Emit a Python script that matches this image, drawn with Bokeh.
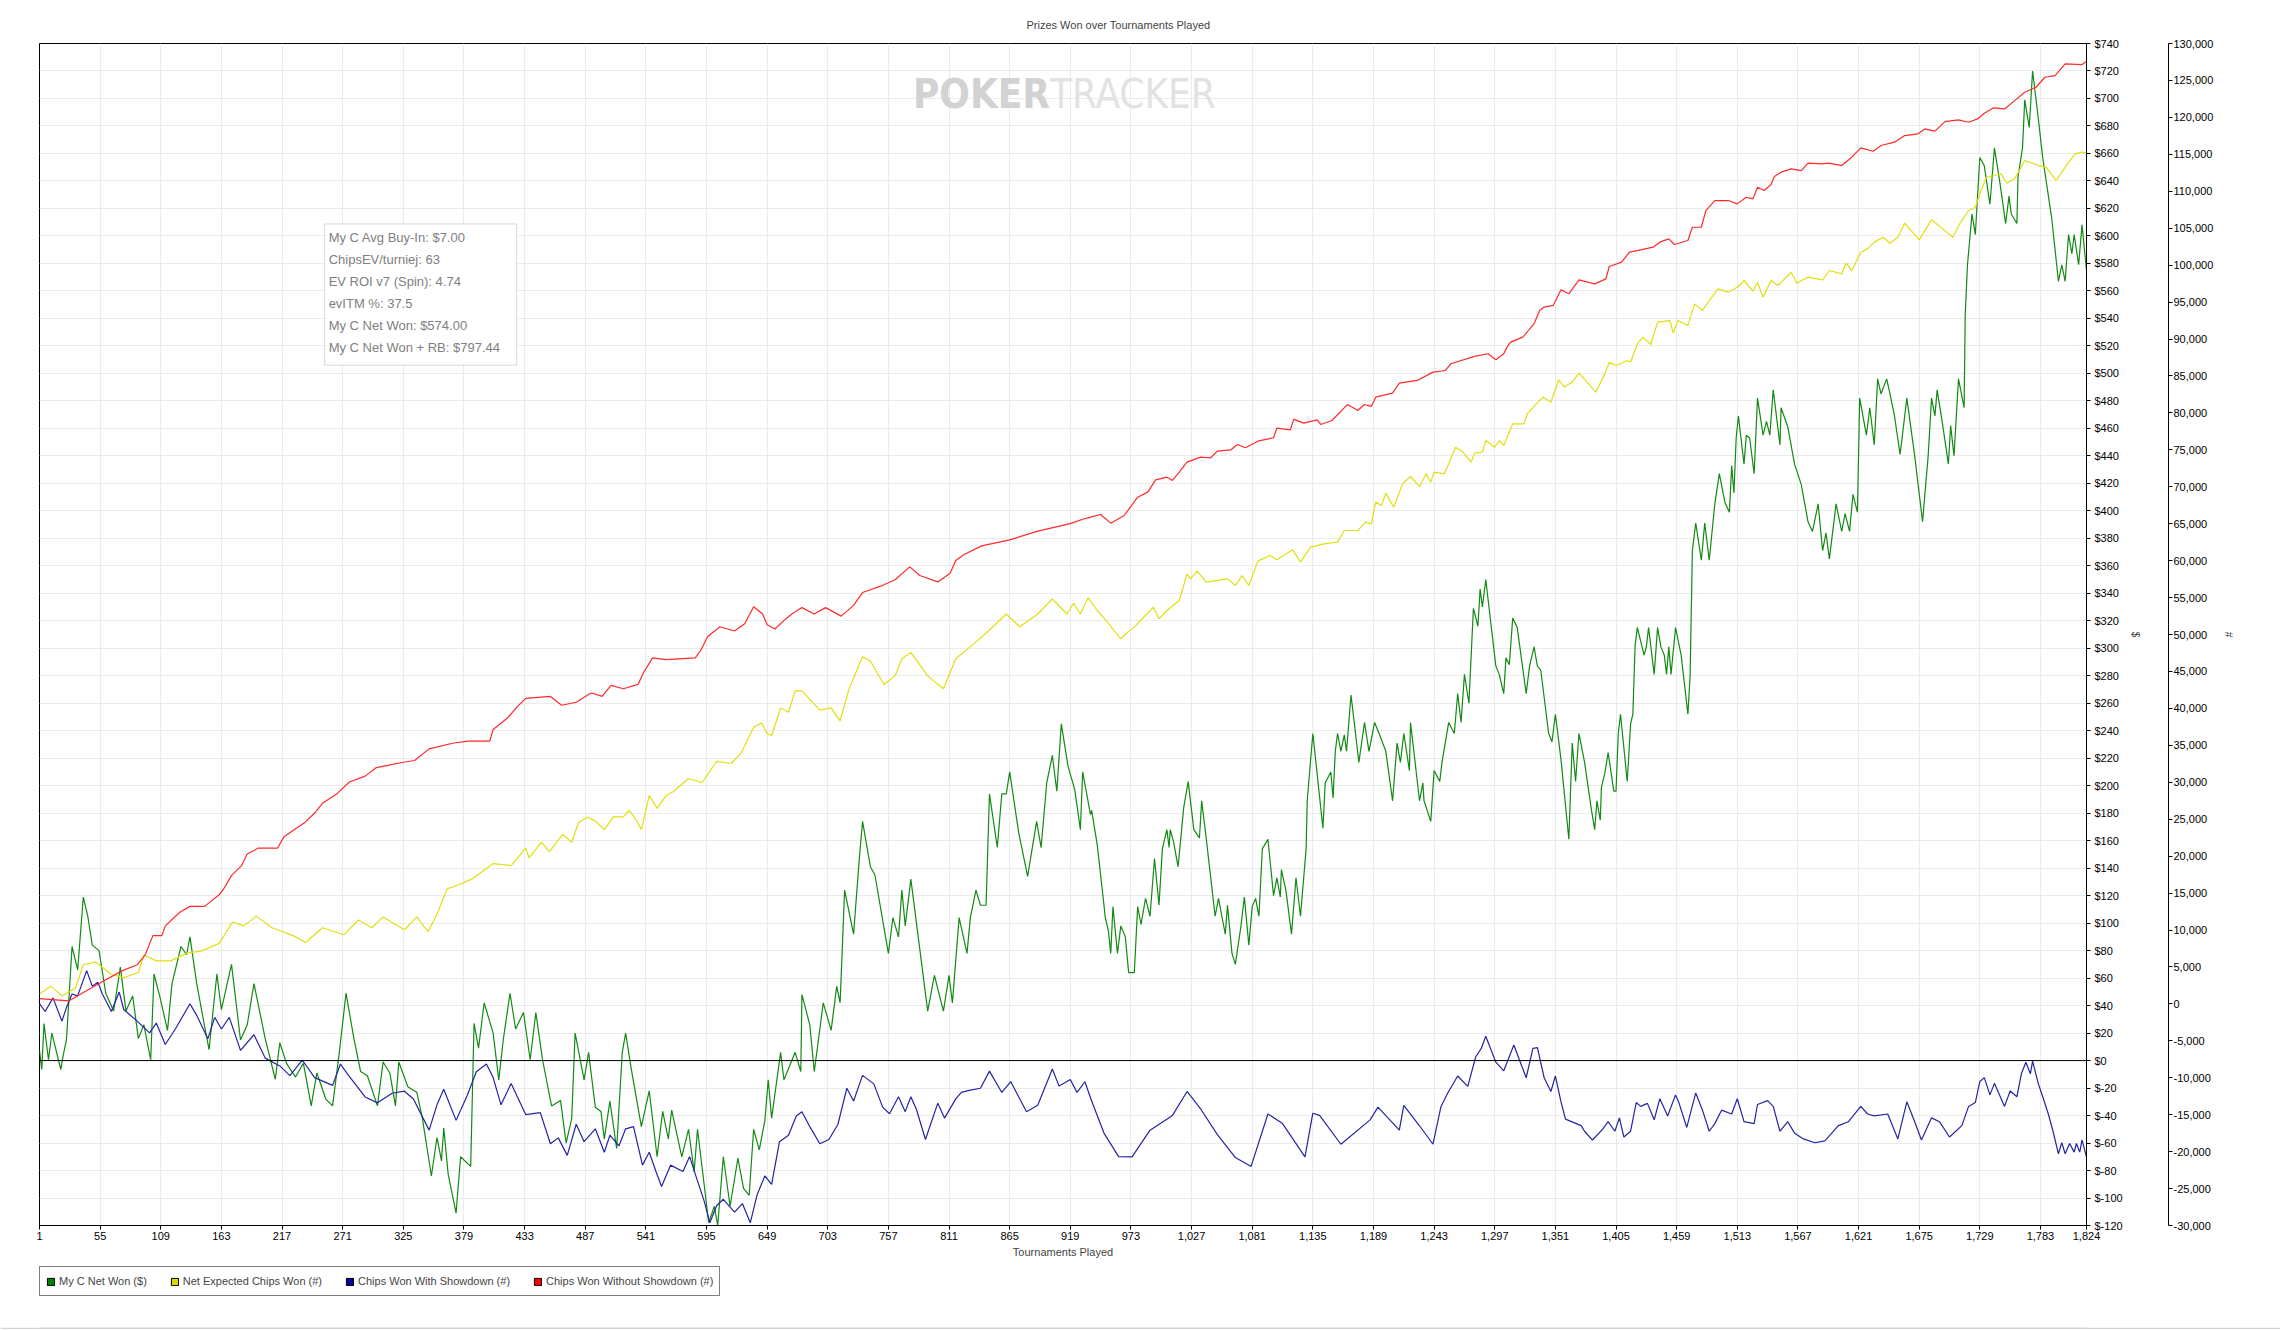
from bokeh.plotting import figure
from bokeh.layouts import column
from bokeh.models import (Range1d, LinearAxis, FixedTicker, NumeralTickFormatter, PrintfTickFormatter,
                          Span, BoxAnnotation, Label, Legend, LegendItem)
from bokeh.embed import file_html
from bokeh.resources import INLINE

# ---------------- data (tournament number, value) ----------------
TITLE = "Prizes Won over Tournaments Played"
X_LABEL = "Tournaments Played"
SERIES_NAMES = ["My C Net Won ($)", "Net Expected Chips Won (#)",
                "Chips Won With Showdown (#)", "Chips Won Without Showdown (#)"]
INFO_LINES = ["My C Avg Buy-In: $7.00", "ChipsEV/turniej: 63", "EV ROI v7 (Spin): 4.74",
              "evITM %: 37.5", "My C Net Won: $574.00", "My C Net Won + RB: $797.44"]
X_TICKS = [1 + 54 * k for k in range(34)] + [1824]
DOLLAR_TICKS = list(range(-120, 741, 20))
CHIP_TICKS = list(range(-30000, 130001, 5000))

green_net_won = [
    (1, 7.6), (3, -6.5), (5, 27), (9, 0.6), (12, 20), (20, -6.5), (22, 3.4), (25, 15), (30, 83), (35, 66),
    (40, 119), (44, 105), (48, 84), (54, 80), (60, 49), (67, 36), (73, 68), (78, 36), (84, 47), (89, 16),
    (94, 26), (100, 0.6), (103, 63), (108, 47), (115, 22), (119, 56), (127, 83), (132, 77), (135, 90),
    (141, 56), (148, 25), (152, 8), (159, 63), (163, 37), (172, 70), (180, 15), (186, 26), (192, 56),
    (202, 16), (211, -13.6), (215, 13), (221, -2), (229, -12), (236, -2), (243, -33), (248, -9), (256, -28),
    (262, -33), (268, 6), (274, 49), (281, 16), (287, -8), (293, -11), (302, -33), (307, -1), (313, -9),
    (318, -33), (321, -1), (329, -19), (337, -23), (342, -42), (350, -84), (355, -56), (359, -73),
    (361, -49), (365, -83), (372, -111), (376, -70), (385, -77), (388, 27), (392, 9), (397, 42), (405, 20),
    (410, -14), (414, 15), (420, 49), (425, 23), (432, 35), (438, 0.6), (443, 35), (449, 0.6), (457, -33),
    (465, -29), (470, -60), (475, -42), (478, 20), (486, -14), (490, 6), (496, -34), (501, -37), (504, -57),
    (509, -29.5), (515, -64), (520, 6), (523, 20), (528, -6), (537, -48), (544, -22), (551, -70), (556, -37),
    (561, -57), (564, -36), (573, -70), (579, -50), (584, -81), (587, -50), (597, -118), (602, -106),
    (605, -120), (610, -70), (616, -106), (623, -71), (628, -93), (633, -98), (637, -50), (642, -65),
    (647, -43.5), (650, -14), (653, -42), (661, 6), (664, -14), (674, 6), (679, -8), (680, 48), (687, 26),
    (691, -8), (699, 42), (706, 22), (711, 54), (714, 42), (718, 124), (726, 92), (731, 146), (734, 174),
    (741, 141), (745, 135), (757, 78), (761, 104), (766, 90), (769, 124), (772, 98), (777, 132), (792, 36),
    (798, 62), (806, 36), (811, 62), (814, 42), (820, 104), (827, 78), (830, 104), (835, 124), (839, 113),
    (844, 113), (847, 194), (854, 155), (858, 194), (862, 194), (865, 210), (873, 166), (881, 134),
    (889, 174), (893, 155), (898, 202), (903, 222), (907, 196), (911, 245), (917, 214), (923, 197),
    (928, 168), (930, 210), (937, 179), (938, 182), (943, 157), (949, 113), (950, 105), (953, 94), (955, 78),
    (957, 112), (961, 78), (964, 98), (968, 90), (971, 64), (976, 64), (979, 112), (982, 99), (986, 118),
    (990, 105), (994, 147), (998, 113), (1001, 154), (1005, 168), (1007, 155), (1008, 168), (1011, 159),
    (1015, 141), (1020, 184), (1024, 203), (1029, 168), (1034, 162), (1036, 189), (1040, 162), (1048, 105),
    (1051, 118), (1054, 105), (1057, 92), (1059, 113), (1063, 78), (1066, 70), (1071, 98), (1074, 119),
    (1078, 84), (1081, 112), (1084, 118), (1087, 105), (1090, 154), (1095, 161), (1100, 120), (1103, 133),
    (1106, 119), (1107, 139), (1111, 124), (1116, 92), (1120, 133), (1124, 105), (1129, 154), (1130, 189),
    (1135, 238), (1144, 169), (1146, 202), (1151, 210), (1153, 191), (1155, 225), (1157, 238), (1160, 225),
    (1163, 237), (1165, 225), (1169, 266), (1176, 217), (1181, 246), (1185, 225), (1190, 246), (1194, 238),
    (1200, 225), (1206, 189), (1210, 231), (1213, 217), (1216, 238), (1221, 211), (1222, 246), (1230, 189),
    (1233, 202), (1234, 189), (1240, 174), (1243, 211), (1248, 203), (1250, 217), (1256, 246), (1261, 238),
    (1264, 267), (1267, 246), (1270, 281), (1274, 260), (1278, 329), (1282, 316), (1284, 343), (1286, 330),
    (1289, 350), (1298, 287), (1301, 281), (1305, 267), (1307, 293), (1310, 288), (1313, 322), (1317, 315),
    (1325, 267), (1328, 287), (1332, 301), (1335, 287), (1338, 284), (1345, 238), (1348, 232), (1351, 252),
    (1356, 219), (1363, 161), (1366, 231), (1369, 203), (1372, 238), (1377, 217), (1383, 183), (1386, 168),
    (1388, 189), (1391, 175), (1392, 199), (1395, 209), (1398, 224), (1403, 196), (1405, 196), (1407, 238),
    (1409, 252), (1415, 203), (1418, 245), (1420, 252), (1422, 302), (1424, 315), (1427, 305), (1430, 295),
    (1432, 301), (1434, 315), (1439, 281), (1442, 315), (1445, 301), (1448, 295), (1450, 281), (1452, 301),
    (1454, 281), (1458, 315), (1463, 295), (1469, 252), (1471, 280), (1473, 371), (1476, 391), (1481, 364),
    (1484, 391), (1488, 364), (1493, 405), (1497, 427), (1502, 406), (1506, 399), (1508, 433), (1510, 413),
    (1512, 453), (1514, 469), (1519, 434), (1521, 455), (1524, 453), (1528, 427), (1531, 482), (1536, 455),
    (1539, 465), (1542, 455), (1545, 488), (1551, 448), (1552, 475), (1558, 461), (1564, 434), (1570, 419),
    (1576, 392), (1580, 385), (1585, 405), (1589, 371), (1592, 384), (1595, 365), (1601, 405), (1606, 385),
    (1609, 398), (1613, 385), (1616, 412), (1620, 399), (1622, 482), (1628, 455), (1631, 475), (1635, 448),
    (1638, 496), (1641, 485), (1646, 496), (1649, 485), (1653, 469), (1658, 441), (1664, 482), (1671, 440),
    (1678, 392), (1683, 440), (1686, 482), (1689, 469), (1691, 488), (1696, 462), (1701, 434), (1703, 462),
    (1706, 440), (1710, 496), (1715, 475), (1716, 543), (1718, 579), (1722, 616), (1725, 601), (1729, 657),
    (1733, 651), (1738, 623), (1742, 664), (1747, 638), (1752, 609), (1755, 629), (1757, 616), (1762, 609),
    (1763, 643), (1767, 664), (1769, 699), (1773, 679), (1776, 720), (1781, 686), (1785, 657), (1793, 613),
    (1799, 567), (1802, 579), (1805, 567), (1808, 601), (1811, 587), (1813, 601), (1817, 579), (1820, 608),
    (1824, 575),
]

yellow_expected_chips = [
    (1, 1343), (11, 2400), (21, 1080), (33, 2130), (40, 5300), (51, 5660), (65, 3980), (76, 3550),
    (89, 4240), (94, 6610), (105, 5820), (118, 5820), (132, 6870), (145, 7140), (161, 8190), (173, 11090),
    (183, 10560), (194, 11880), (208, 10300), (227, 9240), (238, 8300), (253, 10300), (272, 9350),
    (285, 11350), (297, 10300), (307, 11770), (326, 10030), (337, 11770), (347, 9770), (355, 12140),
    (364, 15560), (374, 16090), (386, 16880), (405, 18990), (421, 18720), (434, 21090), (437, 19770),
    (448, 21880), (455, 20560), (467, 22930), (475, 21880), (481, 24510), (489, 25300), (496, 24740),
    (504, 23580), (512, 25310), (521, 25310), (526, 26180), (532, 25020), (537, 23580), (544, 28200),
    (551, 26470), (559, 28200), (566, 28780), (579, 30510), (591, 29930), (604, 32830), (617, 32540),
    (626, 33980), (637, 37450), (644, 38030), (649, 36590), (653, 36300), (661, 40060), (668, 39480),
    (674, 42370), (680, 42370), (687, 41210), (696, 39770), (706, 40060), (714, 38320), (722, 42660),
    (734, 46990), (741, 46420), (753, 43240), (763, 44400), (769, 46710), (777, 47580), (792, 44400),
    (806, 42660), (817, 46710), (833, 48730), (846, 50470), (862, 52780), (874, 51050), (890, 52780),
    (903, 54810), (916, 52780), (922, 54230), (928, 52780), (935, 55000), (943, 53250), (952, 51670),
    (964, 49420), (970, 50320), (976, 51000), (985, 52440), (993, 53700), (998, 52120), (1005, 53250),
    (1016, 54600), (1023, 58210), (1026, 57530), (1032, 58570), (1040, 57080), (1059, 57530), (1066, 56630),
    (1072, 57980), (1078, 56630), (1086, 59930), (1097, 60700), (1103, 60110), (1117, 61460), (1124, 59790),
    (1133, 61820), (1145, 62270), (1157, 62500), (1163, 64080), (1175, 64080), (1182, 65210), (1187, 64980),
    (1191, 67920), (1196, 67460), (1200, 69130), (1207, 67240), (1215, 70400), (1222, 71390), (1230, 70040),
    (1236, 71750), (1240, 70620), (1243, 71980), (1252, 71750), (1256, 73110), (1262, 75360), (1268, 74820),
    (1276, 73330), (1279, 74550), (1286, 74680), (1289, 76260), (1297, 75360), (1301, 76260), (1305, 75590),
    (1313, 78520), (1323, 78520), (1326, 79880), (1332, 80870), (1337, 81680), (1340, 82130), (1347, 81450),
    (1354, 84480), (1359, 83490), (1366, 84170), (1372, 85380), (1378, 84380), (1387, 82800), (1395, 85280),
    (1399, 86860), (1405, 86410), (1415, 87080), (1418, 86860), (1424, 89340), (1429, 90250), (1436, 89250),
    (1442, 92280), (1453, 92500), (1456, 90790), (1460, 92500), (1469, 91820), (1475, 94760), (1482, 93850),
    (1488, 95210), (1496, 96790), (1505, 96340), (1514, 97110), (1519, 97920), (1527, 96470), (1531, 97690),
    (1536, 95660), (1543, 97920), (1549, 97240), (1561, 99040), (1566, 97560), (1576, 98370), (1589, 98010),
    (1595, 99270), (1606, 98820), (1610, 100260), (1615, 99270), (1623, 101750), (1629, 102200),
    (1635, 103110), (1643, 103780), (1649, 102970), (1656, 103780), (1662, 105670), (1671, 104140),
    (1675, 103420), (1686, 106130), (1695, 105040), (1705, 103780), (1711, 105580), (1719, 107390),
    (1725, 107840), (1730, 110100), (1735, 111900), (1742, 112130), (1748, 112350), (1753, 111090),
    (1760, 111680), (1769, 114160), (1781, 113480), (1788, 113260), (1797, 111450), (1803, 112800),
    (1808, 113930), (1814, 115060), (1820, 115290), (1824, 115150),
]

blue_with_showdown = [
    (1, 26), (6, -1030), (13, 816), (21, -2340), (25, -500), (30, 1340), (35, 1080), (43, 4500), (48, 2400),
    (53, 2920), (57, 1340), (65, -1030), (72, 1600), (76, -760), (88, -2340), (99, -3920), (105, -2600),
    (113, -5500), (122, -3400), (135, 26), (141, -1550), (151, -4710), (157, -1820), (163, -3400),
    (170, -1820), (180, -6290), (192, -4180), (202, -7340), (215, -8400), (224, -9720), (235, -7600),
    (246, -9980), (262, -11030), (269, -8140), (275, -9450), (291, -12600), (302, -13400), (315, -12100),
    (326, -11820), (334, -12880), (348, -17090), (355, -13670), (361, -11560), (372, -15770), (382, -12360),
    (390, -9190), (399, -8140), (405, -9980), (412, -13670), (421, -10770), (434, -14980), (447, -14720),
    (456, -18930), (463, -18140), (471, -20510), (479, -16300), (486, -18650), (496, -16910), (504, -20090),
    (509, -17780), (517, -19230), (523, -16910), (530, -16620), (538, -21830), (544, -20090), (550, -22700),
    (555, -24720), (563, -21830), (574, -22700), (580, -20670), (588, -24430), (593, -26740), (598, -29640),
    (604, -27320), (610, -26450), (620, -28190), (627, -27030), (634, -29640), (640, -25880), (647, -23280),
    (653, -24430), (660, -18650), (668, -17780), (675, -15170), (680, -14590), (687, -16620), (696, -18940),
    (704, -18360), (712, -16330), (720, -11420), (726, -13150), (734, -9680), (744, -10830), (752, -14010),
    (758, -14880), (766, -12570), (772, -14590), (777, -12570), (782, -14300), (790, -18360), (801, -13440),
    (807, -15460), (817, -12860), (822, -11990), (829, -11710), (839, -11420), (847, -9100), (858, -11990),
    (866, -10540), (873, -12570), (880, -14590), (890, -13730), (903, -8810), (909, -11130), (919, -10250),
    (925, -11990), (932, -10540), (938, -13150), (949, -17490), (962, -20670), (974, -20700), (990, -17100),
    (1010, -15100), (1023, -11860), (1035, -14200), (1050, -17700), (1066, -20800), (1080, -22000),
    (1095, -14900), (1108, -16200), (1128, -20700), (1135, -14800), (1141, -15100), (1160, -19000),
    (1186, -15700), (1193, -13970), (1212, -17100), (1216, -13730), (1230, -16500), (1242, -19000),
    (1249, -13970), (1255, -12100), (1264, -9760), (1273, -11160), (1280, -7190), (1285, -6030),
    (1289, -4390), (1298, -7890), (1305, -9060), (1314, -5560), (1325, -10000), (1331, -6030), (1335, -5930),
    (1341, -10000), (1347, -11860), (1351, -9760), (1356, -13270), (1360, -15600), (1374, -16480),
    (1377, -17240), (1384, -18430), (1393, -16980), (1398, -15950), (1404, -17240), (1408, -15430),
    (1412, -18020), (1418, -17240), (1423, -13360), (1427, -13880), (1433, -13470), (1439, -15690),
    (1444, -12840), (1451, -15170), (1458, -12320), (1461, -13360), (1468, -16730), (1476, -12060),
    (1482, -14390), (1488, -17240), (1493, -16210), (1499, -14390), (1508, -14910), (1513, -12840),
    (1519, -15950), (1528, -16210), (1531, -13620), (1540, -13100), (1545, -13880), (1551, -17240),
    (1558, -15950), (1564, -17500), (1572, -18280), (1582, -18800), (1591, -18540), (1603, -16480),
    (1612, -15950), (1623, -13880), (1629, -14910), (1635, -15170), (1647, -14910), (1656, -18280),
    (1664, -13260), (1671, -15950), (1677, -18430), (1686, -15430), (1693, -15950), (1702, -18020),
    (1713, -16480), (1719, -13880), (1725, -13360), (1729, -10500), (1733, -9980), (1738, -12320),
    (1742, -10760), (1751, -13880), (1756, -11800), (1762, -12580), (1766, -9470), (1770, -7910),
    (1774, -9470), (1776, -7760), (1781, -10760), (1785, -12580), (1790, -14910), (1794, -17140),
    (1799, -20290), (1802, -18780), (1805, -20290), (1809, -18900), (1813, -20070), (1815, -18900),
    (1818, -20070), (1820, -18400), (1824, -20750),
]

red_without_showdown = [
    (1, 711), (27, 395), (56, 2920), (75, 4500), (88, 5300), (95, 6600), (102, 9240), (110, 9240),
    (113, 10560), (126, 12400), (135, 13200), (148, 13200), (161, 14770), (165, 15560), (172, 17400),
    (181, 18720), (186, 20300), (196, 21090), (213, 21090), (219, 22670), (237, 24510), (246, 25830),
    (253, 27150), (266, 28460), (277, 30040), (291, 30830), (301, 31990), (324, 32670), (335, 32940),
    (348, 34520), (370, 35310), (383, 35570), (402, 35570), (405, 37150), (418, 38730), (427, 40310),
    (434, 41360), (456, 41620), (466, 40420), (479, 40830), (490, 41890), (493, 42080), (502, 41620),
    (510, 43120), (521, 42660), (534, 43240), (539, 44860), (547, 46830), (559, 46600), (585, 46830),
    (590, 47870), (596, 49720), (607, 51050), (620, 50470), (629, 51450), (637, 53760), (645, 52780),
    (649, 51330), (656, 50750), (664, 51910), (671, 52780), (680, 53640), (691, 52780), (701, 53640),
    (715, 52490), (726, 53940), (734, 55680), (750, 56540), (763, 57410), (776, 59150), (785, 57990),
    (801, 57120), (812, 58280), (817, 60020), (824, 60800), (840, 62000), (865, 62800), (890, 64000),
    (919, 65000), (930, 65600), (937, 65884), (946, 66245), (955, 65072), (967, 66110), (979, 68590),
    (988, 69270), (995, 70940), (1005, 71300), (1010, 70850), (1016, 71980), (1023, 73330), (1035, 74010),
    (1044, 73920), (1050, 74820), (1062, 75000), (1068, 75720), (1075, 75270), (1086, 76170),
    (1100, 76630), (1103, 77930), (1115, 77710), (1118, 79150), (1127, 78610), (1139, 79060),
    (1142, 78430), (1152, 78970), (1166, 81140), (1175, 80320), (1181, 81140), (1187, 80870),
    (1191, 82130), (1206, 82670), (1212, 84030), (1228, 84390), (1242, 85520), (1253, 85740),
    (1258, 86650), (1279, 87640), (1291, 88000), (1298, 87190), (1305, 88000), (1308, 88900),
    (1311, 89580), (1322, 90260), (1332, 92060), (1337, 93870), (1341, 94320), (1349, 94540),
    (1356, 96660), (1363, 96120), (1372, 98010), (1386, 97460), (1396, 98140), (1399, 99810),
    (1410, 100400), (1417, 101750), (1427, 102070), (1438, 102430), (1444, 103110), (1452, 103560),
    (1457, 102790), (1469, 103330), (1473, 105130), (1481, 105130), (1485, 107390), (1493, 108740),
    (1505, 108740), (1513, 108290), (1521, 109190), (1527, 108970), (1531, 110550), (1537, 110100),
    (1543, 110910), (1546, 111990), (1552, 112580), (1561, 113030), (1570, 112800), (1576, 113800),
    (1588, 113700), (1595, 113800), (1606, 113480), (1615, 114610), (1623, 115870), (1634, 115420),
    (1641, 116190), (1653, 116640), (1662, 117540), (1674, 117770), (1680, 118440), (1689, 118130),
    (1698, 119430), (1710, 119660), (1719, 119340), (1727, 119790), (1733, 120560), (1741, 121280),
    (1751, 121140), (1760, 122270), (1769, 123400), (1779, 124080), (1787, 125430), (1796, 125660),
    (1805, 127240), (1820, 127150), (1824, 127600),
]

COLORS = ["#138a13", "#e0e010", "#2424a4", "#ff2a2a"]
LEGEND_COLORS = ["#008000", "#d8d800", "#0000a0", "#ff0000"]
FONT = "Liberation Sans"
NBSP = "\u00a0"
NAN = float("nan")

# ---------------- main figure ----------------
p = figure(width=2280, height=1265, output_backend="svg", toolbar_location=None,
           x_range=Range1d(1, 1824), y_range=Range1d(-120, 740), y_axis_location="right",
           min_border_left=39, min_border_top=43, min_border_right=194, min_border_bottom=40)
p.extra_y_ranges = {"chips": Range1d(-30000, 130000)}
p.outline_line_color = "black"
p.outline_line_width = 1
p.background_fill_color = "white"
p.border_fill_color = "white"

p.title.text = TITLE
p.title.align = "left"
p.title.offset = 987
p.title.text_font = FONT
p.title.text_font_size = "11px"
p.title.text_font_style = "normal"
p.title.standoff = 25

# grids
p.xgrid.ticker = FixedTicker(ticks=X_TICKS)
p.ygrid.ticker = FixedTicker(ticks=DOLLAR_TICKS)
for g in (p.xgrid, p.ygrid):
    g.grid_line_color = "#ebebeb"
    g.grid_line_width = 1

def style_axis(ax):
    ax.axis_line_color = "black"
    ax.major_tick_line_color = "black"
    ax.major_tick_out = 4
    ax.major_tick_in = 0
    ax.minor_tick_out = 0
    ax.minor_tick_in = 0
    ax.major_label_text_font = FONT
    ax.major_label_text_font_size = "11px"
    ax.major_label_text_color = "black"
    ax.axis_label_text_font = FONT
    ax.axis_label_text_font_size = "10px"
    ax.axis_label_text_font_style = "normal"

xa = p.xaxis[0]
style_axis(xa)
xa.ticker = FixedTicker(ticks=X_TICKS)
xa.formatter = NumeralTickFormatter(format="0,0")
xa.major_label_standoff = 2
xa.axis_label = X_LABEL
xa.axis_label_standoff = 3
xa.axis_label_text_font_size = "11px"

ya = p.yaxis[0]
style_axis(ya)
ya.ticker = FixedTicker(ticks=DOLLAR_TICKS)
ya.formatter = PrintfTickFormatter(format="$%d")
ya.major_label_standoff = 4
ya.axis_label = "$"
ya.axis_label_standoff = 4

# invisible spacer between the two right-hand axes
p.add_layout(LinearAxis(y_range_name="chips", ticker=FixedTicker(ticks=[]), axis_line_color=None,
                        major_tick_out=0, major_tick_in=0, minor_tick_out=0, minor_tick_in=0,
                        major_tick_line_color=None, minor_tick_line_color=None,
                        major_label_standoff=0, axis_label=NBSP, axis_label_standoff=17,
                        axis_label_text_font_size="4px"), "right")

ca = LinearAxis(y_range_name="chips")
style_axis(ca)
ca.ticker = FixedTicker(ticks=CHIP_TICKS)
ca.formatter = NumeralTickFormatter(format="0,0")
ca.major_label_standoff = 1
ca.axis_label = "#"
ca.axis_label_standoff = 7
p.add_layout(ca, "right")

# zero line
p.add_layout(Span(location=0, dimension="width", line_color="black", line_width=1))

# series
series = [green_net_won, yellow_expected_chips, blue_with_showdown, red_without_showdown]
ranges = ["default", "chips", "chips", "chips"]
for pts, col, rn in zip(series, COLORS, ranges):
    xs = [a for a, b in pts]
    ys = [b for a, b in pts]
    p.line(xs, ys, line_color=col, line_width=1.2, y_range_name=rn)

# info box
p.add_layout(BoxAnnotation(left=255, right=426, top=608.7, bottom=506, fill_color="white",
                           fill_alpha=1, line_color="#808080", line_width=1, level="annotation"))
for i, txt in enumerate(INFO_LINES):
    p.add_layout(Label(x=258.5, y=598.5 - 16 * i, text=txt, text_font=FONT, text_font_size="13px",
                       text_color="#808080", text_baseline="middle", text_align="left",
                       level="overlay"))

# watermark
wm_font = "Liberation Sans Narrow, DejaVu Sans Condensed, sans-serif"
p.add_layout(Label(x=901, y=703, text="POKER", text_font=wm_font, text_font_size="40px",
                   text_font_style="bold", text_color="#d2d2d2", text_align="right",
                   text_baseline="alphabetic"))
p.add_layout(Label(x=901, y=703, text="TRACKER", text_font=wm_font, text_font_size="40px",
                   text_font_style="normal", text_color="#e2e2e2", text_align="left",
                   text_baseline="alphabetic"))

# ---------------- legend strip below ----------------
lf = figure(width=2280, height=57, output_backend="svg", toolbar_location=None,
            x_range=Range1d(0, 1), y_range=Range1d(0, 1), x_axis_type=None, y_axis_type=None,
            min_border=0)
lf.outline_line_color = None
lf.background_fill_color = "white"
lf.border_fill_color = "white"
lf.xgrid.visible = False
lf.ygrid.visible = False
items = []
for name, col in zip(SERIES_NAMES, LEGEND_COLORS):
    r = lf.quad(left=[NAN], right=[NAN], top=[NAN], bottom=[NAN], fill_color=col,
                line_color="black", line_width=1)
    items.append(LegendItem(label=name, renderers=[r]))
legend = Legend(items=items, orientation="horizontal", location=(0, 26), margin=0,
                padding=6, spacing=23, label_standoff=4, glyph_width=9, glyph_height=9,
                label_height=16, label_text_font=FONT, label_text_font_size="11px",
                label_text_baseline="middle",
                border_line_color="black", border_line_width=1, background_fill_color="white",
                background_fill_alpha=1)
lf.add_layout(legend)

# grey window strip at the very bottom, as in the screenshot
bar = figure(width=2280, height=7, output_backend="svg", toolbar_location=None,
             x_range=Range1d(0, 1), y_range=Range1d(0, 1), x_axis_type=None, y_axis_type=None,
             min_border=0)
bar.outline_line_color = None
bar.xgrid.visible = False
bar.ygrid.visible = False
bar.background_fill_color = "#d6d3ce"
bar.border_fill_color = "#d6d3ce"

open("out.html", "w").write(file_html(column(p, lf, bar, spacing=0), INLINE))
